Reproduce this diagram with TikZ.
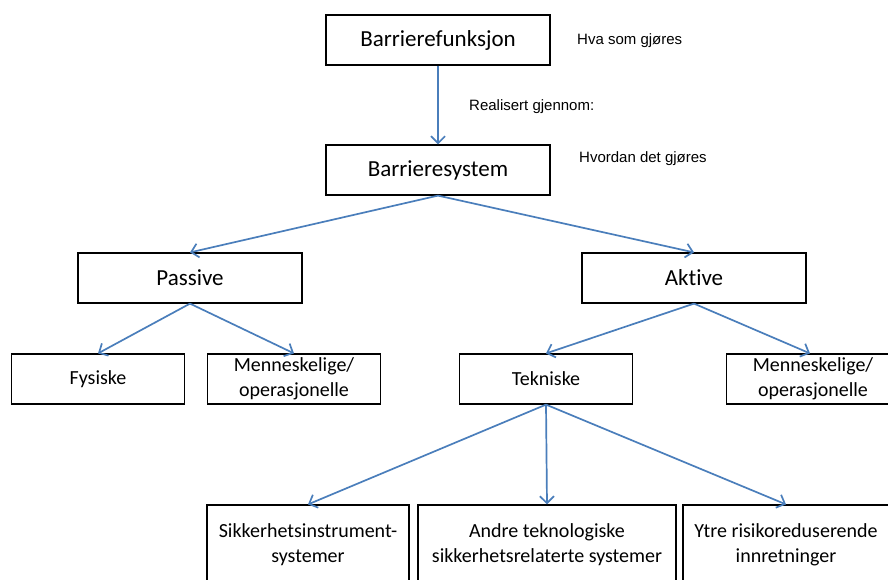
\documentclass[tikz,border=0pt]{standalone}
\usepackage{fontspec}
\setmainfont{Carlito}[Ligatures=NoCommon]
\newfontfamily\arialfont{Liberation Sans}
\usetikzlibrary{arrows.meta}
\definecolor{pilblaa}{HTML}{4A7EBB}
\tikzset{
  boks/.style={draw=black, line width=1.2pt, rectangle, inner sep=0pt, align=center},
  stor/.style={boks, minimum width=224pt, minimum height=50pt, font=\fontsize{23}{27}\selectfont},
  liten/.style={boks, minimum width=173pt, minimum height=50pt, font=\fontsize{20}{25}\selectfont},
  nederst/.style={boks, minimum height=80pt, font=\fontsize{20}{25}\selectfont},
  pil/.style={draw=pilblaa, line width=1.7pt, -{Straight Barb[length=7pt, width=14pt]}},
  merknad/.style={anchor=west, inner sep=0pt, font=\arialfont\fontsize{15}{18}\selectfont}
}
\begin{document}
\begin{tikzpicture}[x=1pt, y=-1pt]
    \useasboundingbox (0,0) rectangle (888,579);
    \node [stor] (funksjon) at (438,40) {Barrierefunksjon};
    \node [merknad] (hva) at (577,41) {Hva som gjøres};
    \node [stor] (system) at (438,170) {Barrieresystem};
    \node [merknad] (hvordan) at (579,159) {Hvordan det gjøres};
    \node [merknad] (realisert) at (469,107) {Realisert gjennom:};
    \draw [pil] (funksjon) -- (system);

    \node [stor] (passive) at (190,278) {Passive};
    \node [stor] (aktive) at (694,278) {Aktive};
    \draw [pil] (system.south) -- (passive.north);
    \draw [pil] (system.south) -- (aktive.north);

    \node [liten] (fysiske) at (98,379) {Fysiske};
    \node [liten] (mennpassiv) at (294,379) {Menneskelige/\\operasjonelle};
    \draw [pil] (passive.south) -- (fysiske.north);
    \draw [pil] (passive.south) -- (mennpassiv.north);

    \node [liten] (tekniske) at (546,379) {Tekniske};
    \node [liten] (mennaktiv) at (813,379) {Menneskelige/\\operasjonelle};
    \draw [pil] (aktive.south) -- (tekniske.north);
    \draw [pil] (aktive.south) -- ([xshift=-3pt]mennaktiv.north);

    \node [nederst, minimum width=202pt] (sis) at (308,545) {Sikkerhetsinstrument-\\systemer};
    \node [nederst, minimum width=258pt] (andre) at (547,545) {Andre teknologiske\\sikkerhetsrelaterte systemer};
    \node [nederst, minimum width=206pt] (ytre) at (786,545) {Ytre risikoreduserende\\innretninger};
    \draw [pil] (tekniske.south) -- (sis.north);
    \draw [pil] (tekniske.south) -- (andre.north);
    \draw [pil] (tekniske.south) -- (ytre.north);
\end{tikzpicture}
\end{document}
